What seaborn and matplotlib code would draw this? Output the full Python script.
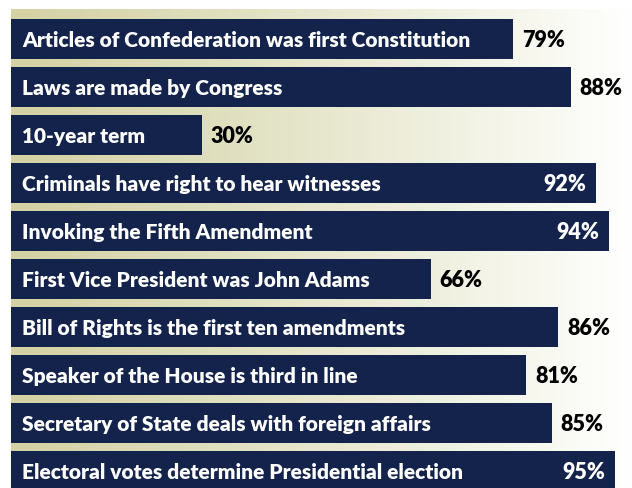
import numpy as np
import matplotlib
matplotlib.use("Agg")
import matplotlib.pyplot as plt
from matplotlib.colors import LinearSegmentedColormap
import seaborn as sns

categories = [
    "Articles of Confederation was first Constitution",
    "Laws are made by Congress",
    "10-year term",
    "Criminals have right to hear witnesses",
    "Invoking the Fifth Amendment",
    "First Vice President was John Adams",
    "Bill of Rights is the first ten amendments",
    "Speaker of the House is third in line",
    "Secretary of State deals with foreign affairs",
    "Electoral votes determine Presidential election",
]
values = [79, 88, 30, 92, 94, 66, 86, 81, 85, 95]
value_labels = [f"{v}%" for v in values]

NAVY = "#13234b"

sns.set_theme(style="white")
plt.rcParams["font.family"] = ["Lato", "DejaVu Sans"]

W, H = 632, 489
fig = plt.figure(figsize=(W / 100, H / 100), dpi=100)
fig.patch.set_facecolor("white")
ax = fig.add_axes([11 / W, 0, 1 - 11 / W, 1 - 10 / H])

# background gradient
cmap = LinearSegmentedColormap.from_list(
    "bg", [(0.0, "#d4d1a3"), (0.35, "#e0e0c0"), (0.75, "#f3f3e6"), (1.0, "#ffffff")]
)
xmax = (W - 11) / 6.36
ylim_bottom = 9 + 17 / 48
ylim_top = -0.4167 - 10 / 48
grad = np.linspace(0, 1, 256).reshape(1, -1)
ax.imshow(grad, aspect="auto", cmap=cmap,
          extent=[0, xmax, ylim_bottom, ylim_top], zorder=0)

sns.barplot(x=values, y=categories, orient="h", color=NAVY, width=40 / 48,
            saturation=1, linewidth=0, edgecolor=NAVY, ax=ax, zorder=2)

ax.set_xlim(0, xmax)
ax.set_ylim(ylim_bottom, ylim_top)
ax.set_axis_off()

FS = 15
for i, (cat, v, lab) in enumerate(zip(categories, values, value_labels)):
    ax.annotate(cat, xy=(0, i), xytext=(11, 0), textcoords="offset pixels",
                ha="left", va="center", color="white", fontsize=FS,
                fontweight="heavy", zorder=3)
    if v >= 90:
        ax.annotate(lab, xy=(v, i), xytext=(-10, 0), textcoords="offset pixels",
                    ha="right", va="center", color="white", fontsize=FS + 0.5,
                    fontweight="heavy", zorder=3)
    else:
        ax.annotate(lab, xy=(v, i), xytext=(9, 0), textcoords="offset pixels",
                    ha="left", va="center", color="black", fontsize=FS + 0.5,
                    fontweight="heavy", zorder=3)

fig.savefig("out.png", dpi=100, facecolor="white")
